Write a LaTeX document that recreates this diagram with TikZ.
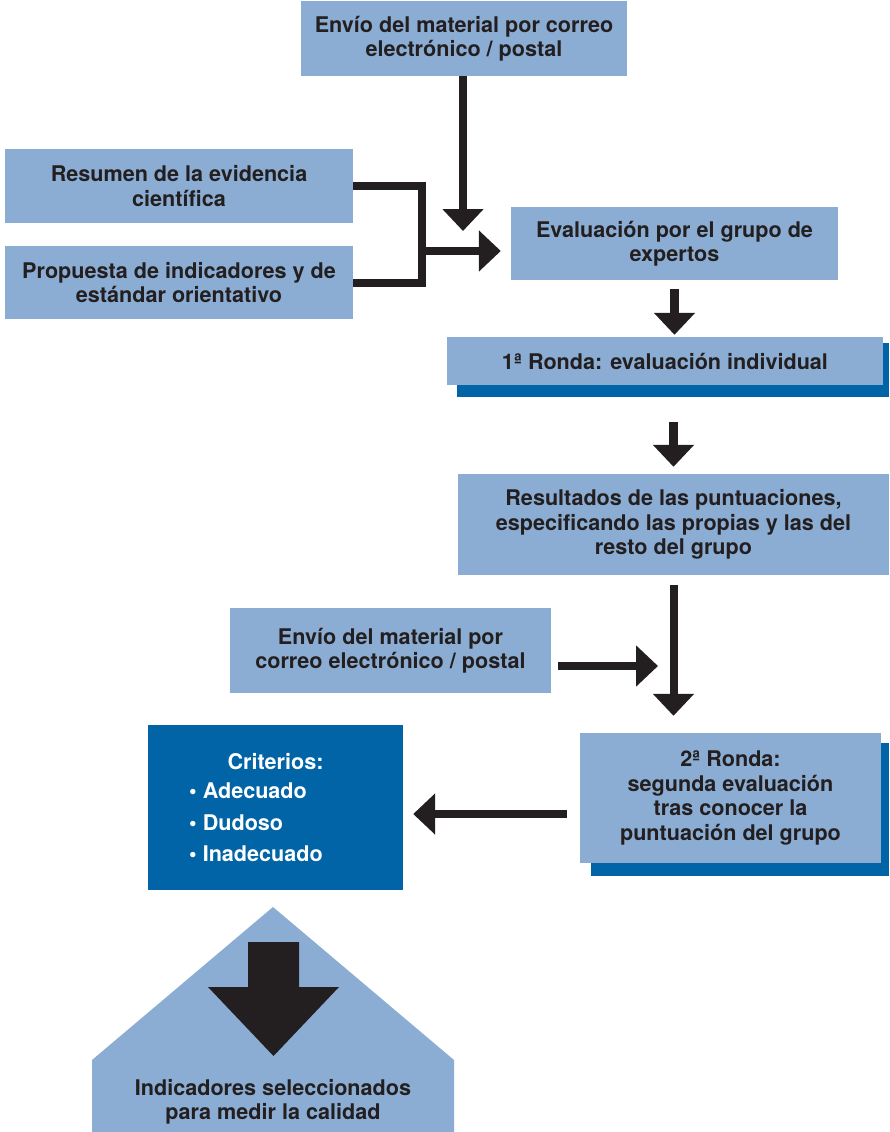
\documentclass[tikz,border=0pt]{standalone}
\usepackage{fontspec}
\setmainfont{TeX Gyre Heros}
\usetikzlibrary{arrows.meta}
\definecolor{azulclaro}{HTML}{8BADD3}
\definecolor{azuloscuro}{HTML}{0064A7}
\definecolor{negro}{HTML}{231F20}
\newcommand{\letra}{\fontsize{21.6}{24.5}\selectfont\bfseries}
\tikzset{
  caja/.style={fill=azulclaro, text=negro, inner sep=0pt, align=center, font=\letra},
  linea/.style={draw=negro, line width=8pt, line join=miter},
  flecha/.style={linea, -{Triangle[width=40pt,length=22pt]}},
  flechita/.style={draw=negro, line width=9pt, -{Triangle[width=40pt,length=22pt]}}
}
\begin{document}
\begin{tikzpicture}[x=1pt,y=-1pt]
     \useasboundingbox (0,0) rectangle (889,1132);
     \node[caja, minimum width=326, minimum height=75] (envio) at (464,38.5)
        {Envío del material por correo\\electrónico / postal};
     \node[caja, minimum width=348, minimum height=74] (resumen) at (179,186)
        {Resumen de la evidencia\\científica};
     \node[caja, minimum width=348, minimum height=73] (propuesta) at (179,282.5)
        {Propuesta de indicadores y de\\estándar orientativo};
     \node[caja, minimum width=327, minimum height=73] (evaluacion) at (674.5,243.5)
        {Evaluación por el grupo de\\expertos};
%	rounds with their shadow
     \fill[azuloscuro] (457,343) rectangle (889,397);
     \node[caja, minimum width=436, minimum height=48] (ronda1) at (665,361)
        {1ª Ronda: evaluación individual};
     \node[caja, minimum width=431, minimum height=101] (resultados) at (673.5,524.5)
        {Resultados de las puntuaciones,\\especificando las propias y las del\\resto del grupo};
     \node[caja, minimum width=321, minimum height=85] (envio2) at (390.5,650.5)
        {Envío del material por\\correo electrónico / postal};
     \fill[azuloscuro] (591,743) rectangle (889,876);
     \node[caja, minimum width=301, minimum height=130] (ronda2) at (730.5,798)
        {2ª Ronda:\\segunda evaluación\\tras conocer la\\puntuación del grupo};
     \node[fill=azuloscuro, minimum width=255, minimum height=165, inner sep=0pt] (criterios) at (275.5,807.5) {};
     \node[text=white, font=\letra] (criteriostit) at (275.5,762) {Criterios:};
     \node[text=white, anchor=north west, inner sep=0pt, align=left,
        font=\fontsize{21.6}{31.5}\selectfont\bfseries] (lista) at (189,783)
        {• Adecuado\\• Dudoso\\• Inadecuado};
%	now the house shape at the bottom:
     \fill[azulclaro] (92,1132) -- (92,1060) -- (273,907) -- (454,1060) -- (454,1132) -- cycle;
     \fill[negro] (248,942) -- (299,942) -- (299,987) -- (339,987) -- (273.5,1056)
        -- (208,987) -- (248,987) -- cycle;
     \node[text=negro, align=center, font=\letra] (final) at (273,1102)
        {Indicadores seleccionados\\para medir la calidad};
%	connectors
     \coordinate (punta1) at (463,231);
     \draw[flecha] (envio.south -| punta1) -- (punta1);
     \coordinate (codo) at (422,234);
     \draw[linea] (resumen.east) -| (codo) |- (propuesta.east);
     \coordinate (union) at (422,251);
     \draw[flecha] (union) -- ([shift={(-10,7.5)}]evaluacion.west);
     \draw[flechita, shorten <=9pt, shorten >=2pt] (evaluacion.south) -- (evaluacion.south |- ronda1.north);
     \draw[flechita, shorten <=37pt, shorten >=7pt] (resultados.north |- ronda1.south) -- (resultados.north);
     \draw[flecha, shorten <=10pt, shorten >=17pt] (resultados.south) -- (resultados.south |- ronda2.north);
     \draw[flecha] ([shift={(7,15.5)}]envio2.east) -- (658,666);
     \draw[flecha] ([shift={(-13,16)}]ronda2.west) -- ([shift={(10,6.5)}]criterios.east);
\end{tikzpicture}
\end{document}
